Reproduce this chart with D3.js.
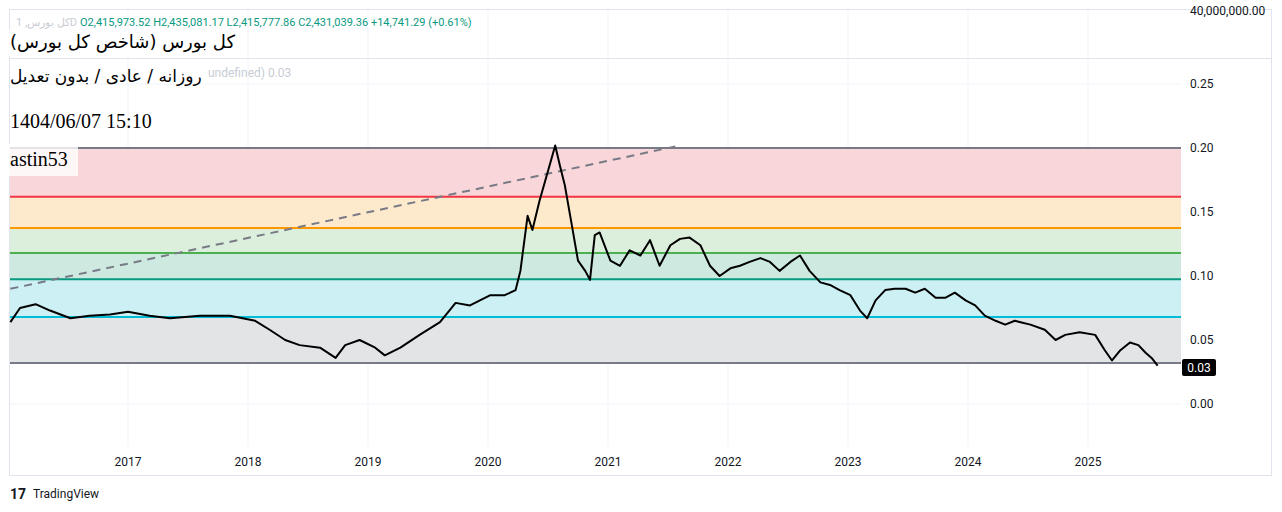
<!DOCTYPE html>
<html><head><meta charset="utf-8">
<script src="https://cdn.jsdelivr.net/npm/d3@7"></script>
<style>body{margin:0;background:#fff;font-family:Roboto,"Noto Sans",sans-serif}</style>
</head><body>
<svg id="chart" width="1282" height="512" viewBox="0 0 1282 512"></svg>
<script>
// ratio series (decimal year, value)
const years = [2016.02,2016.10,2016.23,2016.35,2016.52,2016.68,2016.85,2017.00,2017.18,2017.35,2017.60,2017.85,2018.06,2018.18,2018.31,2018.43,2018.60,2018.73,2018.81,2018.93,2019.06,2019.14,2019.27,2019.43,2019.60,2019.73,2019.85,2020.02,2020.14,2020.23,2020.27,2020.33,2020.37,2020.43,2020.50,2020.56,2020.60,2020.64,2020.70,2020.75,2020.81,2020.85,2020.89,2020.93,2021.02,2021.10,2021.18,2021.27,2021.35,2021.43,2021.52,2021.60,2021.68,2021.77,2021.85,2021.93,2022.02,2022.10,2022.18,2022.27,2022.35,2022.43,2022.52,2022.60,2022.68,2022.77,2022.85,2022.93,2023.02,2023.10,2023.16,2023.23,2023.31,2023.39,2023.48,2023.56,2023.64,2023.73,2023.81,2023.89,2023.98,2024.06,2024.14,2024.23,2024.31,2024.39,2024.52,2024.64,2024.73,2024.81,2024.93,2025.06,2025.14,2025.20,2025.27,2025.35,2025.42,2025.48,2025.53,2025.58]
const ratio = [0.064,0.075,0.078,0.073,0.067,0.069,0.070,0.072,0.069,0.067,0.069,0.069,0.065,0.058,0.050,0.046,0.044,0.036,0.046,0.050,0.044,0.038,0.044,0.054,0.064,0.079,0.077,0.085,0.085,0.089,0.104,0.147,0.136,0.159,0.182,0.202,0.186,0.171,0.139,0.112,0.104,0.097,0.132,0.134,0.112,0.108,0.120,0.116,0.128,0.108,0.124,0.129,0.130,0.124,0.108,0.100,0.106,0.108,0.111,0.114,0.111,0.104,0.111,0.116,0.104,0.095,0.093,0.089,0.085,0.073,0.067,0.081,0.089,0.090,0.090,0.087,0.090,0.083,0.083,0.087,0.081,0.077,0.069,0.065,0.062,0.065,0.062,0.058,0.050,0.054,0.056,0.054,0.042,0.034,0.042,0.048,0.046,0.040,0.036,0.030]
// horizontal levels and band fills
const levels = [0.2, 0.162, 0.1375, 0.118, 0.0975, 0.068, 0.032]
const levelColors = ["#787b86","#f23645","#ff9800","#4caf50","#089981","#00bcd4","#787b86"]
const bandFills = ["#f8d6d9","#fde9cc","#dcefdc","#cde9e0","#ccf0f4","#e3e4e6"]
const trendLine = [[2016.02,0.090],[2021.60,0.202]]
const yTicks = [0,0.05,0.10,0.15,0.20,0.25]
const xTicks = [2017,2018,2019,2020,2021,2022,2023,2024,2025]

const svg = d3.select("#chart")
const x = d3.scaleLinear().domain([2017,2025]).range([128,1088])
const y = d3.scaleLinear().domain([0,0.25]).range([404,84])
const left = 10, right = 1181

// frame
svg.append("rect").attr("x",9.5).attr("y",9.5).attr("width",1262).attr("height",466).attr("fill","none").attr("stroke","#e0e3eb")
svg.append("line").attr("x1",10).attr("x2",1271).attr("y1",58.5).attr("y2",58.5).attr("stroke","#e0e3eb")

// grid
svg.append("g").selectAll("line").data(xTicks).join("line")
  .attr("x1",d=>x(d)).attr("x2",d=>x(d)).attr("y1",10).attr("y2",446).attr("stroke","#f0f3fa")
svg.append("g").selectAll("line").data(yTicks).join("line")
  .attr("x1",left).attr("x2",right).attr("y1",d=>y(d)).attr("y2",d=>y(d)).attr("stroke","#f0f3fa")

// bands
svg.append("g").selectAll("rect").data(bandFills).join("rect")
  .attr("x",left).attr("width",right-left)
  .attr("y",(d,i)=>y(levels[i])).attr("height",(d,i)=>y(levels[i+1])-y(levels[i]))
  .attr("fill",d=>d)
svg.append("g").selectAll("line").data(levels).join("line")
  .attr("x1",left).attr("x2",right).attr("y1",d=>y(d)).attr("y2",d=>y(d))
  .attr("stroke",(d,i)=>levelColors[i]).attr("stroke-width",2)

// dashed trend line
svg.append("line")
  .attr("x1",x(trendLine[0][0])).attr("y1",y(trendLine[0][1]))
  .attr("x2",x(trendLine[1][0])).attr("y2",y(trendLine[1][1]))
  .attr("stroke","#787b86").attr("stroke-width",2).attr("stroke-dasharray","8,6")

// series
const pts = years.map((t,i)=>[t,ratio[i]])
svg.append("path").datum(pts)
  .attr("d",d3.line().x(d=>x(d[0])).y(d=>y(d[1])))
  .attr("fill","none").attr("stroke","#000").attr("stroke-width",2).attr("stroke-linejoin","round")

// axes labels
svg.append("g").selectAll("text").data(yTicks).join("text")
  .attr("x",1190).attr("y",d=>y(d)+4).attr("font-size",12).attr("fill","#131722")
  .text(d=>d3.format(".2f")(d))
svg.append("text").attr("x",1190).attr("y",15).attr("font-size",12).attr("fill","#131722").text("40,000,000.00")
svg.append("rect").attr("x",1182).attr("y",359).attr("width",34).attr("height",17).attr("rx",2).attr("fill","#000")
svg.append("text").attr("x",1199).attr("y",372).attr("text-anchor","middle").attr("font-size",12).attr("fill","#fff").text("0.03")
svg.append("g").selectAll("text").data(xTicks).join("text")
  .attr("x",d=>x(d)).attr("y",466).attr("text-anchor","middle").attr("font-size",12).attr("fill","#131722")
  .text(d=>d)

// header texts
svg.append("text").attr("x",16).attr("y",26).attr("font-size",11).attr("fill","#c8ccd4").text("کل بورس, 1D")
svg.append("text").attr("x",80).attr("y",26).attr("font-size",11).attr("fill","#089981")
  .text("O2,415,973.52  H2,435,081.17  L2,415,777.86  C2,431,039.36  +14,741.29 (+0.61%)")
svg.append("rect").attr("x",8).attr("y",30).attr("width",205).attr("height",26).attr("fill","#fff")
svg.append("text").attr("x",10).attr("y",48).attr("font-family","'DejaVu Sans'").attr("font-size",18).attr("fill","#000")
  .attr("direction","rtl").attr("text-anchor","end").text("کل بورس (شاخص کل بورس)")
svg.append("text").attr("x",10).attr("y",82).attr("font-family","'DejaVu Sans'").attr("font-size",17).attr("fill","#000")
  .attr("direction","rtl").attr("text-anchor","end").text("روزانه / عادی / بدون تعدیل")
svg.append("text").attr("x",208).attr("y",77).attr("font-size",12).attr("fill","#c8ccd4").text("undefined)  0.03")
svg.append("text").attr("x",10).attr("y",128).attr("font-family","'Liberation Serif'").attr("font-size",20).attr("fill","#000").text("1404/06/07 15:10")
svg.append("rect").attr("x",8).attr("y",144).attr("width",70).attr("height",32).attr("fill","#fff").attr("opacity",0.8)
svg.append("text").attr("x",10).attr("y",166).attr("font-family","'Liberation Serif'").attr("font-size",20).attr("fill","#000").text("astin53")

// logo
svg.append("text").attr("x",10).attr("y",499).attr("font-size",14).attr("font-weight",700).attr("fill","#131722").text("17")
svg.append("text").attr("x",33).attr("y",498).attr("font-size",12).attr("fill","#131722").text("TradingView")
</script>
</body></html>
